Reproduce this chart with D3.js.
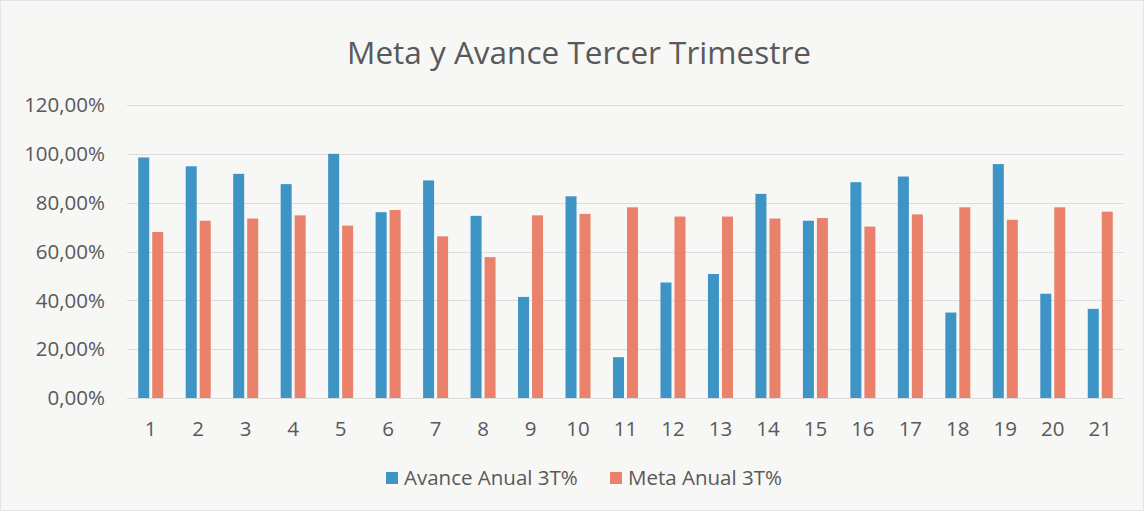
<!DOCTYPE html>
<html>
<head>
<meta charset="utf-8">
<script src="https://cdn.jsdelivr.net/npm/d3@7"></script>
<style>
  html, body { margin: 0; padding: 0; background: #f7f7f6; }
  svg text { font-family: "Open Sans", "Noto Sans", sans-serif; fill: #595959; }
</style>
</head>
<body>
<svg id="chart"></svg>
<script>
// chart data
var categories = ['1','2','3','4','5','6','7','8','9','10','11','12','13','14','15','16','17','18','19','20','21'];
var avance = [98.5, 94.9, 91.8, 87.6, 100, 76.1, 89.1, 74.6, 41.4, 82.6, 16.7, 47.3, 50.8, 83.6, 72.6, 88.4, 90.7, 35.0, 95.8, 42.7, 36.5];
var meta = [68.0, 72.6, 73.5, 74.8, 70.6, 77.0, 66.2, 57.7, 74.8, 75.4, 78.1, 74.3, 74.3, 73.5, 73.7, 70.2, 75.2, 78.1, 73.0, 78.1, 76.3];
var yTicks = [0, 20, 40, 60, 80, 100, 120];
var seriesNames = ['Avance Anual 3T%', 'Meta Anual 3T%'];
var colors = ['#3d94c5', '#e9816b'];

var width = 1144, height = 511;
var margin = {top: 105, right: 20, bottom: 113, left: 127};

var svg = d3.select('#chart').attr('width', width).attr('height', height);

svg.append('rect').attr('x', 0.5).attr('y', 0.5).attr('width', width - 1).attr('height', height - 1)
  .attr('fill', '#f7f7f6').attr('stroke', '#e4e4e4');

// scales
var x = d3.scaleBand().domain(categories).range([margin.left, width - margin.right]);
var y = d3.scaleLinear().domain([0, 120]).range([height - margin.bottom, margin.top]);
var barW = 11, gap = 3;

// gridlines
svg.append('g').selectAll('line').data(yTicks).enter().append('line')
  .attr('x1', margin.left).attr('x2', width - margin.right)
  .attr('y1', function (d) { return Math.round(y(d)) + 0.5; })
  .attr('y2', function (d) { return Math.round(y(d)) + 0.5; })
  .attr('stroke', '#dcdcdc').attr('stroke-width', 1);

// y tick labels
var fmt = function (d) { return d.toFixed(2).replace('.', ',') + '%'; };
svg.append('g').selectAll('text').data(yTicks).enter().append('text')
  .attr('x', 105).attr('y', function (d) { return y(d); })
  .attr('dy', '0.35em').attr('text-anchor', 'end')
  .style('font-size', '20.5px').text(fmt);

// bars
var series = [avance, meta];
series.forEach(function (vals, s) {
  svg.append('g').selectAll('rect').data(vals).enter().append('rect')
    .attr('x', function (d, i) {
      var c = x(categories[i]) + x.bandwidth() / 2;
      return s == 0 ? c - gap / 2 - barW : c + gap / 2;
    })
    .attr('y', function (d) { return y(d); })
    .attr('width', barW)
    .attr('height', function (d) { return y(0) - y(d); })
    .attr('fill', colors[s]);
});

// x labels
svg.append('g').selectAll('text').data(categories).enter().append('text')
  .attr('x', function (d) { return x(d) + x.bandwidth() / 2; })
  .attr('y', 436).attr('text-anchor', 'middle')
  .style('font-size', '20.5px').text(function (d) { return d; });

// title
svg.append('text').attr('x', 579).attr('y', 64).attr('text-anchor', 'middle')
  .style('font-size', '31.5px').text('Meta y Avance Tercer Trimestre');

// legend
var legX = [386, 610];
seriesNames.forEach(function (name, s) {
  svg.append('rect').attr('x', legX[s]).attr('y', 472).attr('width', 12).attr('height', 12).attr('fill', colors[s]);
  svg.append('text').attr('x', legX[s] + 18).attr('y', 478).attr('dy', '0.35em')
    .style('font-size', '20.5px').text(name);
});
</script>
</body>
</html>
